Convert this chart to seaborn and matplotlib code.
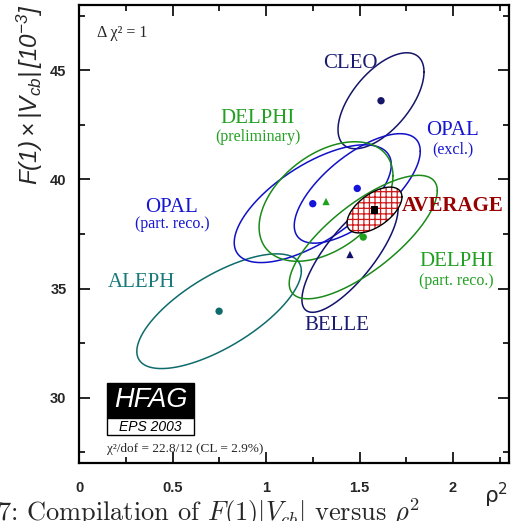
import numpy as np
import pandas as pd
import matplotlib
matplotlib.use("Agg")
import matplotlib.pyplot as plt
from matplotlib.patches import Rectangle
import seaborn as sns

# ---- data ----
experiments = ["ALEPH", "CLEO", "OPAL_excl", "OPAL_part", "DELPHI_prel", "BELLE", "DELPHI_part", "AVERAGE"]
rho2 = [0.749, 1.615, 1.488, 1.250, 1.321, 1.449, 1.520, 1.580]
fvcb = [33.96, 43.61, 39.59, 38.89, 38.99, 36.56, 37.36, 38.60]
sig_rho2 = [0.44, 0.23, 0.337, 0.42, 0.358, 0.257, 0.396, 0.147]
sig_fvcb = [2.63, 2.20, 2.51, 2.70, 2.74, 2.65, 2.83, 1.05]
corr = [0.70, 0.60, 0.68, 0.66, 0.43, 0.78, 0.75, 0.57]
markers = ["o", "o", "o", "o", "^", "^", "o", "s"]

line_colors = {
    "ALEPH": "#0f6b6b", "CLEO": "#15156a", "OPAL_excl": "#1010c8", "OPAL_part": "#1010c8",
    "DELPHI_prel": "#1a8a1a", "BELLE": "#12126e", "DELPHI_part": "#1a8a1a", "AVERAGE": "black",
}
point_colors = {
    "ALEPH": "#0f6b6b", "CLEO": "#15156a", "OPAL_excl": "#1414dc", "OPAL_part": "#1414dc",
    "DELPHI_prel": "#1fa01f", "BELLE": "#12126e", "DELPHI_part": "#1fa01f", "AVERAGE": "black",
}

label_names = ["CLEO", "OPAL", "(excl.)", "DELPHI", "(preliminary)", "OPAL", "(part. reco.)",
               "AVERAGE", "DELPHI", "(part. reco.)", "ALEPH", "BELLE"]
label_x = [1.449, 2.00, 2.00, 0.957, 0.957, 0.497, 0.497, 1.727, 2.02, 2.02, 0.332, 1.38]
label_y = [45.30, 42.24, 41.37, 42.79, 41.97, 38.72, 37.94, 38.77, 36.25, 35.34, 35.29, 33.32]
label_colors = ["#1a1a72", "#1616d0", "#1616d0", "#22a022", "#22a022", "#1616d0", "#1616d0",
                "#990000", "#22a022", "#22a022", "#1a7a7a", "#1a1a72"]
label_sizes = [15, 15, 11.5, 15, 11.5, 15, 11.5, 15, 15, 11.5, 15, 15]

x_ticks = [0, 0.5, 1, 1.5, 2]
x_tick_labels = ["0", "0.5", "1", "1.5", "2"]
y_ticks = [30, 35, 40, 45]
y_tick_labels = ["30", "35", "40", "45"]

df = pd.DataFrame({"exp": experiments, "rho2": rho2, "fvcb": fvcb,
                   "srho": sig_rho2, "sf": sig_fvcb, "r": corr, "m": markers})

# ---- style ----
sns.set_style("ticks")
plt.rcParams["font.family"] = ["Liberation Serif", "DejaVu Sans"]
plt.rcParams["mathtext.fontset"] = "custom"
plt.rcParams["mathtext.it"] = "Liberation Sans:italic"
plt.rcParams["mathtext.rm"] = "Liberation Sans:italic"
plt.rcParams["hatch.linewidth"] = 0.9

fig = plt.figure(figsize=(5.2, 5.21), dpi=100)
ax = fig.add_axes([0.152, 0.1113, 0.827, 0.8791])

t = np.linspace(0, 2 * np.pi, 400)
for _, row in df.iterrows():
    ex = row.rho2 + row.srho * np.cos(t)
    ey = row.fvcb + row.sf * (row.r * np.cos(t) + np.sqrt(1 - row.r ** 2) * np.sin(t))
    if row.exp == "AVERAGE":
        ax.fill(ex, ey, facecolor="white", edgecolor="#d01818", hatch="+++", lw=0, zorder=3)
        ax.plot(ex, ey, color="black", lw=1.0, zorder=4)
    else:
        ax.plot(ex, ey, color=line_colors[row.exp], lw=1.1, zorder=2)

sns.scatterplot(data=df, x="rho2", y="fvcb", hue="exp", palette=point_colors,
                style="exp", markers=dict(zip(experiments, markers)),
                s=28, edgecolor="none", legend=False, ax=ax, zorder=5)

for name, x, y, c, s in zip(label_names, label_x, label_y, label_colors, label_sizes):
    ax.text(x, y, name, color=c, fontsize=s, ha="left" if name == "AVERAGE" else "center",
            va="center", fontweight="bold" if name == "AVERAGE" else "normal",
            family="Liberation Serif")

ax.set_xlim(0, 2.3)
ax.set_ylim(27, 48)
ax.set_xticks(x_ticks)
ax.set_xticklabels(x_tick_labels)
ax.set_yticks(y_ticks)
ax.set_yticklabels(y_tick_labels)
ax.set_xticks(np.arange(0.25, 2.3, 0.5), minor=True)
ax.set_yticks([27.5, 32.5, 37.5, 42.5, 47.5], minor=True)
ax.tick_params(which="both", direction="in", top=True, right=True, width=1.2, color="black")
ax.tick_params(which="major", length=8)
ax.tick_params(which="minor", length=4)
ax.tick_params(axis="x", pad=13)
ax.tick_params(axis="y", pad=9)
for lab in ax.get_xticklabels() + ax.get_yticklabels():
    lab.set_family("Liberation Sans")
    lab.set_fontweight("bold")
    lab.set_fontsize(10.5)
for sp in ax.spines.values():
    sp.set_linewidth(1.6)
    sp.set_color("black")
ax.set_xlabel("")
ax.set_ylabel("")

fig.text(30 / 520, 1 - 4 / 521, r"$F(1)\times|V_{cb}|\,[10^{-3}]$", rotation=90,
         ha="center", va="top", fontsize=17.5)
fig.text(508 / 520, 1 - 503 / 521, "ρ$^2$", ha="right", va="baseline", fontsize=15.5,
         family="DejaVu Sans", math_fontfamily="dejavusans")

ax.text(0.042, 0.939, "Δ χ² = 1", transform=ax.transAxes, fontsize=11.5, ha="left", va="center")
ax.text(0.065, 0.0306, "χ²/dof = 22.8/12 (CL = 2.9%)", transform=ax.transAxes,
        fontsize=9.5, ha="left", va="center")

ax.add_patch(Rectangle((0.065, 0.0983), 0.202, 0.0764, transform=ax.transAxes,
                       facecolor="black", edgecolor="black", lw=1.0, zorder=6))
ax.add_patch(Rectangle((0.065, 0.0611), 0.202, 0.0372, transform=ax.transAxes,
                       facecolor="white", edgecolor="black", lw=1.0, zorder=6))
ax.text(0.166, 0.1365, "HFAG", transform=ax.transAxes, color="white", fontsize=19.5,
        style="italic", family="Liberation Sans", ha="center", va="center", zorder=7)
ax.text(0.166, 0.0797, "EPS 2003", transform=ax.transAxes, color="black", fontsize=10,
        style="italic", family="Liberation Sans", ha="center", va="center", zorder=7)

# figure caption, cropped at the bottom edge as in the reference
fig.text(-3 / 520, 1 - 521 / 521, r"7: Compilation of $F(1)|V_{cb}|$ versus $\rho^2$",
         fontsize=19, family="cmr10", math_fontfamily="cm", ha="left", va="baseline")

fig.savefig("out.png", dpi=100)
